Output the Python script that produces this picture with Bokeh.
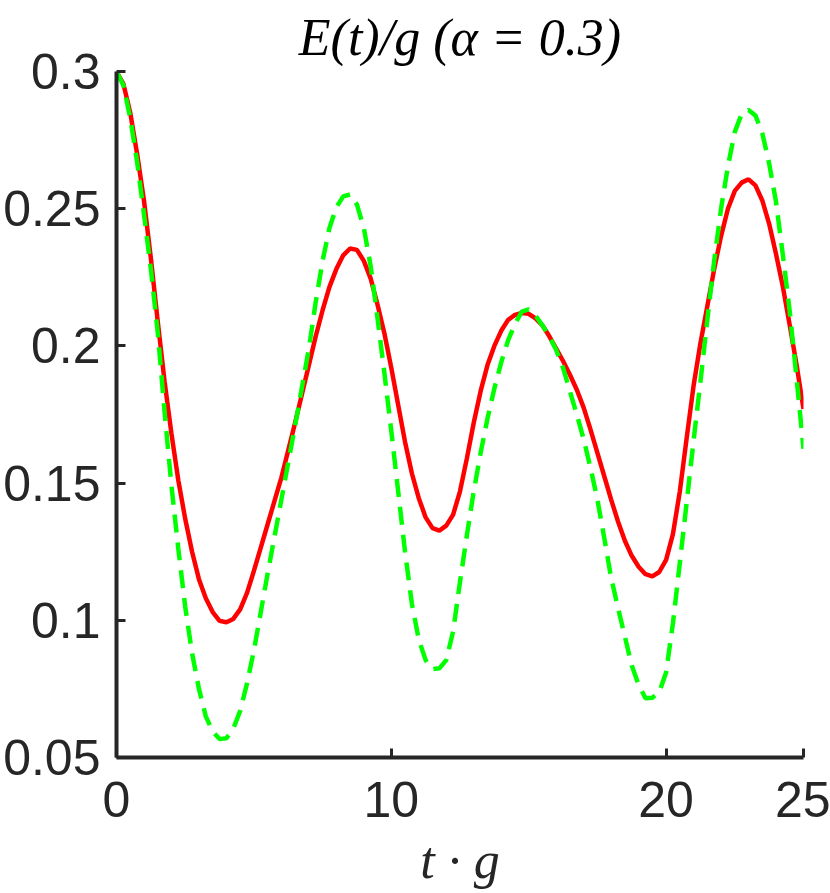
from bokeh.plotting import figure
from bokeh.models import Range1d, FixedTicker
from bokeh.embed import file_html
from bokeh.resources import INLINE

t_values = [0.0, 0.25, 0.5, 0.75, 1.0, 1.25, 1.5, 1.75, 2.0, 2.25, 2.5, 2.75,
            3.0, 3.25, 3.5, 3.75, 4.0, 4.25, 4.5, 4.75, 5.0, 5.25, 5.5, 5.75,
            6.0, 6.25, 6.5, 6.75, 7.0, 7.25, 7.5, 7.75, 8.0, 8.25, 8.5, 8.75,
            9.0, 9.25, 9.5, 9.75, 10.0, 10.25, 10.5, 10.75, 11.0, 11.25, 11.5, 11.75,
            12.0, 12.25, 12.5, 12.75, 13.0, 13.25, 13.5, 13.75, 14.0, 14.25, 14.5, 14.75,
            15.0, 15.25, 15.5, 15.75, 16.0, 16.25, 16.5, 16.75, 17.0, 17.25, 17.5, 17.75,
            18.0, 18.25, 18.5, 18.75, 19.0, 19.25, 19.5, 19.75, 20.0, 20.25, 20.5, 20.75,
            21.0, 21.25, 21.5, 21.75, 22.0, 22.25, 22.5, 22.75, 23.0, 23.25, 23.5, 23.75,
            24.0, 24.25, 24.5, 24.75, 25.0]

red_e = [0.3000, 0.2955, 0.2850, 0.2700, 0.2530, 0.2320, 0.2090, 0.1870, 0.1680, 0.1510, 0.1370, 0.1250,
         0.1150, 0.1080, 0.1030, 0.0998, 0.0993, 0.1005, 0.1040, 0.1100, 0.1180, 0.1265, 0.1350, 0.1435,
         0.1520, 0.1620, 0.1720, 0.1825, 0.1930, 0.2035, 0.2130, 0.2215, 0.2280, 0.2330, 0.2355, 0.2350,
         0.2310, 0.2245, 0.2150, 0.2045, 0.1920, 0.1785, 0.1650, 0.1535, 0.1445, 0.1375, 0.1336, 0.1327,
         0.1345, 0.1385, 0.1470, 0.1590, 0.1720, 0.1835, 0.1930, 0.2000, 0.2055, 0.2095, 0.2113, 0.2120,
         0.2117, 0.2100, 0.2075, 0.2035, 0.1990, 0.1945, 0.1895, 0.1840, 0.1775, 0.1695, 0.1610, 0.1525,
         0.1440, 0.1360, 0.1290, 0.1235, 0.1195, 0.1168, 0.1160, 0.1176, 0.1220, 0.1315, 0.1470, 0.1665,
         0.1855, 0.2010, 0.2145, 0.2280, 0.2400, 0.2500, 0.2565, 0.2595, 0.2607, 0.2585, 0.2530, 0.2445,
         0.2335, 0.2215, 0.2075, 0.1930, 0.1770]

green_e = [0.3000, 0.2950, 0.2830, 0.2670, 0.2480, 0.2280, 0.2050, 0.1760, 0.1490, 0.1260, 0.1050, 0.0880,
           0.0750, 0.0650, 0.0595, 0.0567, 0.0570, 0.0605, 0.0670, 0.0770, 0.0890, 0.1030, 0.1170, 0.1305,
           0.1440, 0.1575, 0.1710, 0.1850, 0.1990, 0.2160, 0.2310, 0.2430, 0.2505, 0.2545, 0.2552, 0.2515,
           0.2430, 0.2290, 0.2100, 0.1900, 0.1690, 0.1470, 0.1250, 0.1060, 0.0930, 0.0855, 0.0822, 0.0825,
           0.0855, 0.0960, 0.1140, 0.1310, 0.1470, 0.1610, 0.1735, 0.1845, 0.1940, 0.2020, 0.2080, 0.2125,
           0.2133, 0.2110, 0.2075, 0.2035, 0.1985, 0.1920, 0.1835, 0.1750, 0.1660, 0.1555, 0.1440, 0.1300,
           0.1155, 0.1045, 0.0940, 0.0835, 0.0765, 0.0716, 0.0718, 0.0738, 0.0810, 0.0990, 0.1210, 0.1430,
           0.1655, 0.1870, 0.2095, 0.2310, 0.2500, 0.2655, 0.2780, 0.2845, 0.2860, 0.2840, 0.2775, 0.2665,
           0.2525, 0.2330, 0.2125, 0.1880, 0.1625]

x_ticks = [0, 10, 20, 25]
y_ticks = [0.05, 0.1, 0.15, 0.2, 0.25, 0.3]
y_tick_labels = ["0.05", "0.1", "0.15", "0.2", "0.25", "0.3"]

title_text = "E(t)/g (\u03b1 = 0.3)"
x_label = "t \u00b7 g"

AX = "#262626"

p = figure(width=830, height=893,
           min_border_left=115, min_border_right=27,
           min_border_top=70, min_border_bottom=136,
           x_range=Range1d(0, 25), y_range=Range1d(0.05, 0.3),
           output_backend="svg", toolbar_location=None,
           title=title_text)

p.outline_line_color = None
p.grid.visible = False
p.background_fill_color = "white"
p.border_fill_color = "white"

p.title.text_font = "Liberation Serif"
p.title.text_font_style = "italic"
p.title.text_font_size = "52px"
p.title.text_color = "black"
p.title.align = "center"
p.title.standoff = 12
p.title.offset = -4

for ax in (p.xaxis[0], p.yaxis[0]):
    ax.axis_line_color = AX
    ax.axis_line_width = 4
    ax.major_tick_line_color = AX
    ax.major_tick_line_width = 3
    ax.major_tick_in = 9
    ax.major_tick_out = 0
    ax.minor_tick_line_color = None
    ax.major_label_text_font = "Liberation Sans"
    ax.major_label_text_font_size = "50px"
    ax.major_label_text_color = AX

p.xaxis.ticker = FixedTicker(ticks=x_ticks)
p.yaxis.ticker = FixedTicker(ticks=y_ticks)
p.yaxis.major_label_overrides = dict(zip(y_ticks, y_tick_labels))
p.yaxis.major_label_standoff = 16
p.xaxis.major_label_standoff = 24

p.xaxis.axis_label = x_label
p.xaxis.axis_label_text_font = "Liberation Serif"
p.xaxis.axis_label_text_font_style = "italic"
p.xaxis.axis_label_text_font_size = "52px"
p.xaxis.axis_label_text_color = AX
p.xaxis.axis_label_standoff = 12

p.line(t_values, red_e, line_color="#FF0000", line_width=4.5)
p.line(t_values, green_e, line_color="#00FF00", line_width=4.5, line_dash="18 10")

open("out.html", "w").write(file_html(p, INLINE))
